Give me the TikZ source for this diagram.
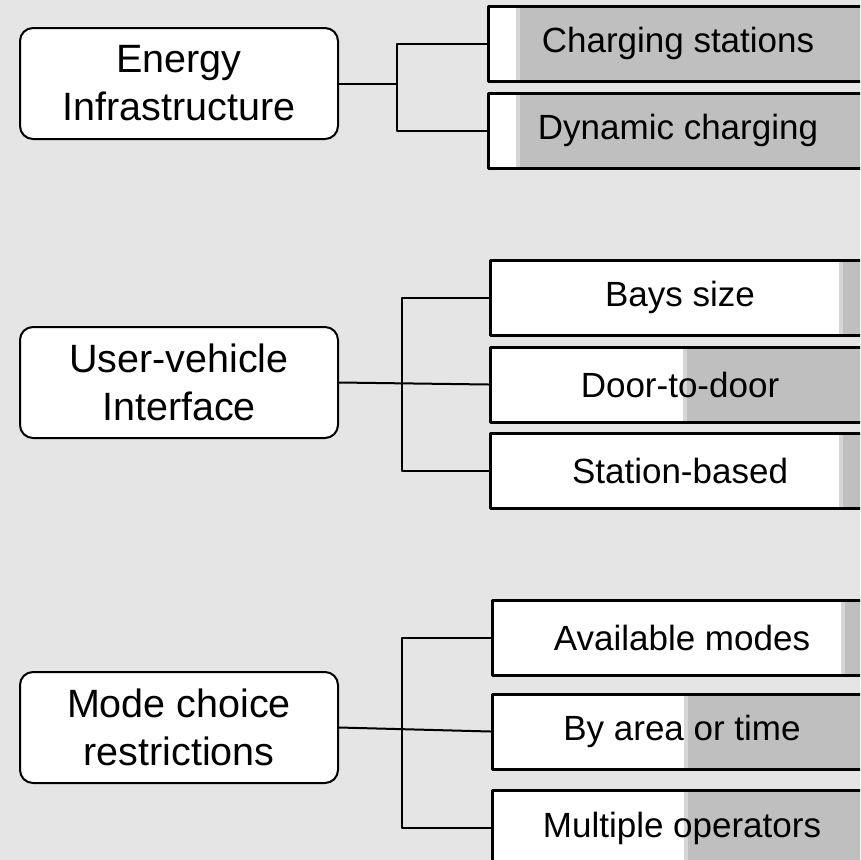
\documentclass[tikz,border=0pt]{standalone}
\usepackage{fontspec}
\setmainfont{Liberation Sans}
\definecolor{pagegray}{RGB}{229,229,229}
\definecolor{bargray}{RGB}{191,191,191}
\definecolor{edgegray}{RGB}{214,214,214}

\begin{document}
\begin{tikzpicture}[x=1pt,y=-1pt,line cap=round,line join=round,
  topic/.style={draw=black,fill=white,line width=2pt,rounded corners=13pt,
    minimum width=318pt,minimum height=111pt,inner sep=0pt,align=center,
    font=\fontsize{39.5}{48}\selectfont},
  leaf/.style={draw=black,fill=white,line width=3pt,minimum width=380pt,
    minimum height=75pt,inner sep=0pt,font=\fontsize{35}{40}\selectfont,
    path picture={
      \fill[edgegray] ([xshift=#1pt-4pt]path picture bounding box.north west)
        rectangle ([xshift=#1pt]path picture bounding box.south west);
      \fill[bargray] ([xshift=#1pt]path picture bounding box.north west)
        rectangle (path picture bounding box.south east);}},
  link/.style={draw=black,line width=2pt}]
\useasboundingbox (0,0) rectangle (860,860);
\clip (0,0) rectangle (860,860);
\fill[pagegray] (0,0) rectangle (860,860);

% energy infrastructure
\node[topic] (energy) at (179,83.5) {Energy\\Infrastructure};
\node[leaf=32] (charging) at (678,43.5) {Charging stations};
\node[leaf=32] (dynamic) at (678,130.5) {Dynamic charging};
\coordinate (ej) at (397,83.5);
\draw[link] (charging.west) -| (ej) |- (dynamic.west);
\draw[link] (energy.east) -- (ej);

% user-vehicle interface
\node[topic] (user) at (179,382.5) {User-vehicle\\Interface};
\node[leaf=353] (bays) at (680,297.5) {Bays size};
\node[leaf=197] (door) at (680,384.5) {Door-to-door};
\node[leaf=353] (station) at (680,470.5) {Station-based};
\coordinate (uj) at (402,384.5);
\draw[link] (bays.west) -| (uj) |- (station.west);
\draw[link] (user.east) -- (door.west);

% mode choice restrictions
\node[topic] (mode) at (179,727.5) {Mode choice\\restrictions};
\node[leaf=353] (available) at (682,637.5) {Available modes};
\node[leaf=196] (byarea) at (682,731.5) {By area or time};
\node[leaf=196] (multiple) at (682,828) {Multiple operators};
\coordinate (mj) at (402,731.5);
\draw[link] (available.west) -| (mj) |- (multiple.west);
\draw[link] (mode.east) -- (byarea.west);
\end{tikzpicture}
\end{document}
